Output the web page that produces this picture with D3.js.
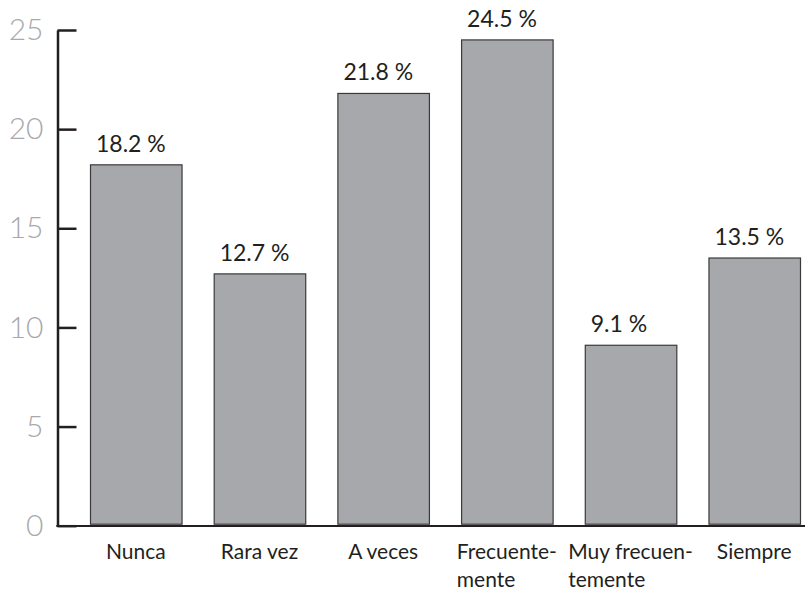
<!DOCTYPE html>
<html>
<head>
<meta charset="utf-8">
<script src="https://cdn.jsdelivr.net/npm/d3@7/dist/d3.min.js"></script>
<style>
  html, body { margin: 0; padding: 0; background: #fff; }
  svg { display: block; }
  text { font-family: Lato, "Open Sans", sans-serif; }
</style>
</head>
<body>
<svg id="chart" width="805" height="592"></svg>
<script>
const categories = ["Nunca", "Rara vez", "A veces", "Frecuente-|mente", "Muy frecuen-|temente", "Siempre"];
const values = [18.2, 12.7, 21.8, 24.5, 9.1, 13.5];
const yTicks = [0, 5, 10, 15, 20, 25];

const svg = d3.select("#chart");
const x = d3.scaleBand().domain(categories).range([90, 800]).paddingInner(0.26).paddingOuter(0);
const y = d3.scaleLinear().domain([0, 25]).range([525.7, 30]);

// bars
svg.append("g").selectAll("rect").data(values).join("rect")
  .attr("x", (d, i) => x(categories[i]) + 0.5)
  .attr("y", d => y(d))
  .attr("width", x.bandwidth())
  .attr("height", d => y(0) - 1.5 - y(d))
  .attr("fill", "#a7a8ab")
  .attr("stroke", "#3a3a3a")
  .attr("stroke-width", 1.2);

// value labels
svg.append("g").selectAll("text").data(values).join("text")
  .attr("x", (d, i) => x(categories[i]) + 6)
  .attr("y", d => y(d) - 13)
  .attr("text-anchor", "start")
  .attr("font-size", 23)
  .attr("fill", "#231f20")
  .text(d => d.toFixed(1) + " %");

// y axis
const yAxis = d3.axisLeft(y).tickValues(yTicks).tickSizeInner(-19).tickSizeOuter(0).tickPadding(14);
const gy = svg.append("g").attr("transform", "translate(57.5,0)").call(yAxis);
gy.select(".domain").attr("stroke", "#231f20").attr("stroke-width", 2.5);
gy.selectAll(".tick line").attr("stroke", "#231f20").attr("stroke-width", 2.5);
gy.selectAll(".tick text").attr("font-size", 30).attr("fill", "#a7a9ac")
  .attr("font-weight", 300)
  .attr("font-family", "Lato, 'Open Sans', sans-serif");

// x axis
const xAxis = d3.axisBottom(x).tickSize(0).tickSizeOuter(0).tickFormat("");
const gx = svg.append("g").attr("transform", "translate(0,526)").call(xAxis);
gx.select(".domain").remove();
gx.append("line").attr("x1", 56.3).attr("x2", 805).attr("y1", 0).attr("y2", 0)
  .attr("stroke", "#231f20").attr("stroke-width", 2.2);

// x labels (multi-line, lines left aligned, block centred on first line)
const lab = svg.append("g");
categories.forEach(c => {
  const lines = c.split("|");
  const cx = x(c) + x.bandwidth() / 2;
  const t = lab.append("text").attr("font-size", 21).attr("fill", "#231f20");
  const tmp = t.append("tspan").text(lines[0]);
  const w = tmp.node().getComputedTextLength();
  tmp.remove();
  lines.forEach((l, j) => {
    t.append("tspan").attr("x", cx - w / 2).attr("y", 558.5 + j * 28).text(l);
  });
});
</script>
</body>
</html>
